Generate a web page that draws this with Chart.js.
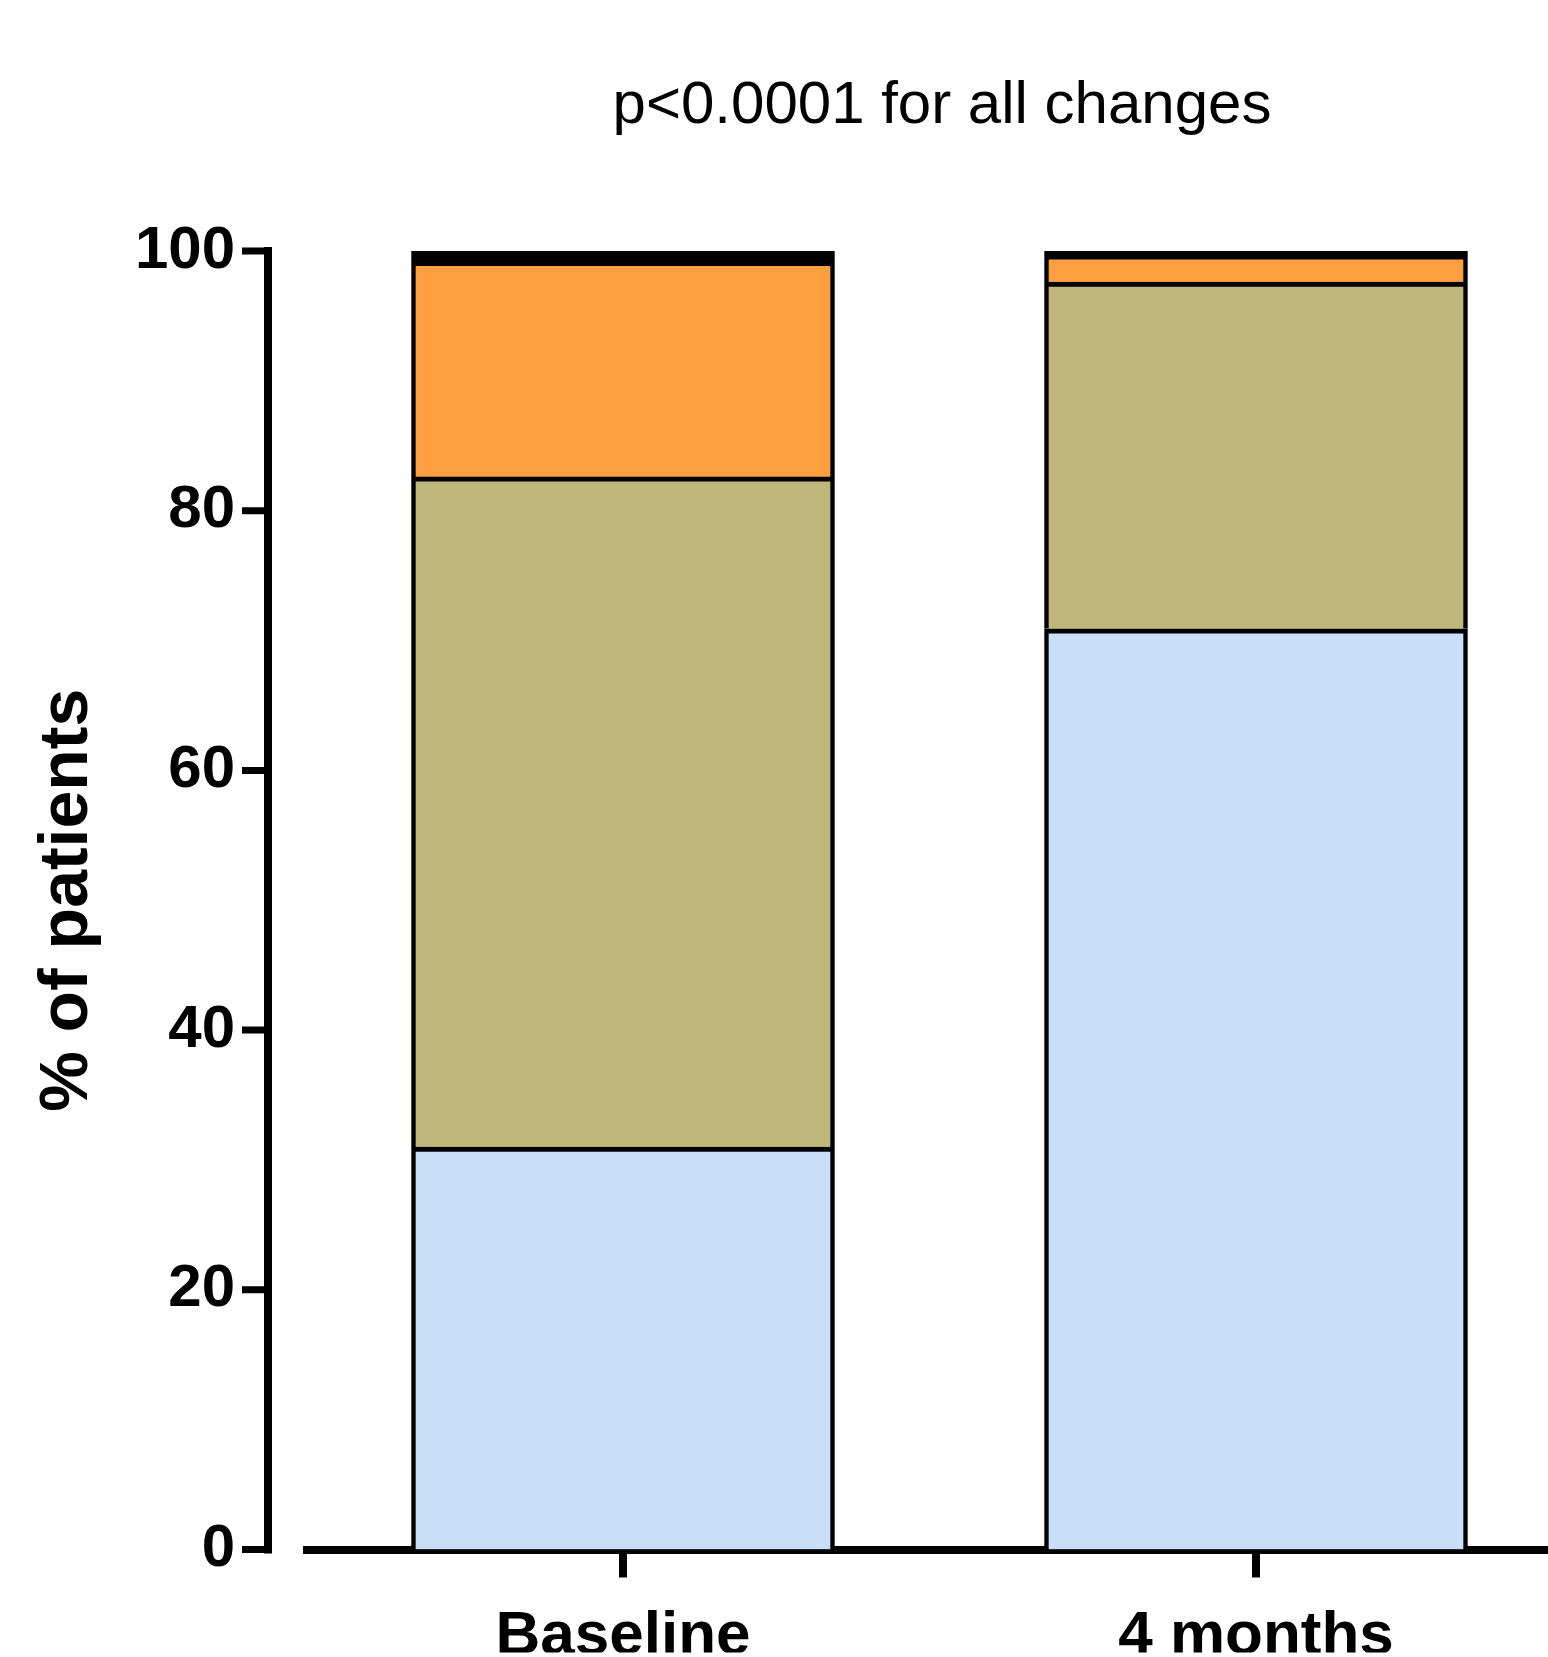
<!DOCTYPE html>
<html>
<head>
<meta charset="utf-8">
<script src="https://cdn.jsdelivr.net/npm/chart.js@4"></script>
<style>
  body { margin: 0; background: #fff; }
  canvas { display: block; }
</style>
</head>
<body>
<canvas id="canvas" width="1548" height="1657"></canvas>
<script>
// values (% of patients)
var categories = ['Baseline', '4 months'];
var blueValues = [31.0, 70.9];
var tanValues = [51.6, 26.7];
var orangeValues = [16.6, 2.1];
var blackValues = [0.8, 0.3];
var yTickValues = [0, 20, 40, 60, 80, 100];
var titleText = 'p<0.0001 for all changes';

Chart.defaults.font.family = '"Liberation Sans", Arial, sans-serif';
Chart.defaults.color = '#000';

var segBorder = { top: 5, left: 4.5, right: 4.5, bottom: 0 };

// x is a linear index (0, 1) so the plot can run past the right edge like the original
var toPoints = function(values) {
  return values.map(function(v, i) { return { x: i, y: v }; });
};

// GraphPad style y axis, sits a little left of the plot area, plus the title
var extras = {
  id: 'extras',
  afterDraw: function(chart) {
    var ctx = chart.ctx;
    var y = chart.scales.y;
    var x = chart.scales.x;
    var ax = chart.chartArea.left - 38.5;
    ctx.save();
    ctx.strokeStyle = '#000';
    ctx.lineWidth = 8;
    ctx.beginPath();
    ctx.moveTo(ax, y.getPixelForValue(100) - 4);
    ctx.lineTo(ax, y.getPixelForValue(0) + 4);
    ctx.stroke();
    ctx.lineWidth = 7;
    ctx.beginPath();
    y.ticks.forEach(function(t) {
      var py = y.getPixelForValue(t.value);
      ctx.moveTo(242, py);
      ctx.lineTo(ax + 4, py);
    });
    ctx.stroke();

    ctx.fillStyle = '#000';
    ctx.font = '60px "Liberation Sans", Arial, sans-serif';
    ctx.textAlign = 'center';
    ctx.textBaseline = 'alphabetic';
    ctx.fillText(titleText, x.getPixelForValue(0.5) + 2.5, 123);
    ctx.restore();
  }
};

var ctx = document.getElementById('canvas').getContext('2d');

window.myBar = new Chart(ctx, {
  type: 'bar',
  data: {
    datasets: [
      { label: 'blue', data: toPoints(blueValues), backgroundColor: '#C9DEF7', borderColor: '#000', borderWidth: segBorder },
      { label: 'tan', data: toPoints(tanValues), backgroundColor: '#BFB67C', borderColor: '#000', borderWidth: segBorder },
      { label: 'orange', data: toPoints(orangeValues), backgroundColor: '#FEA042', borderColor: '#000', borderWidth: segBorder },
      { label: 'black', data: toPoints(blackValues), backgroundColor: '#000', borderColor: '#000', borderWidth: segBorder }
    ]
  },
  options: {
    responsive: false,
    animation: false,
    layout: { padding: { left: 0, right: 0, top: 251, bottom: 0 } },
    datasets: { bar: { barThickness: 423 } },
    plugins: {
      legend: { display: false },
      tooltip: { enabled: false },
      title: { display: false }
    },
    scales: {
      x: {
        type: 'linear',
        stacked: true,
        offset: false,
        min: -0.5,
        max: 1.4613,
        z: 1,
        border: { display: true, color: '#000', width: 8 },
        grid: { display: true, drawOnChartArea: false, drawTicks: true, tickLength: 28, lineWidth: 8, color: '#000', offset: false },
        afterBuildTicks: function(s) {
          s.ticks = categories.map(function(c, i) { return { value: i }; });
        },
        ticks: {
          font: { size: 62, weight: 'bold' },
          padding: 22,
          maxRotation: 0,
          autoSkip: false,
          callback: function(v) { return categories[v]; }
        },
        afterFit: function(s) { s.height = 103; }
      },
      y: {
        stacked: true,
        min: 0,
        max: 100,
        border: { display: false },
        grid: { display: false, drawTicks: false },
        afterBuildTicks: function(s) {
          s.ticks = yTickValues.map(function(v) { return { value: v }; });
        },
        ticks: { font: { size: 60, weight: 'bold' }, padding: 71.5 },
        title: {
          display: true,
          text: '% of patients',
          color: '#000',
          font: { size: 68, weight: 'bold' },
          padding: { top: 27.5, bottom: 0 }
        },
        afterFit: function(s) { s.width = 306.5; }
      }
    }
  },
  plugins: [extras]
});
</script>
</body>
</html>
